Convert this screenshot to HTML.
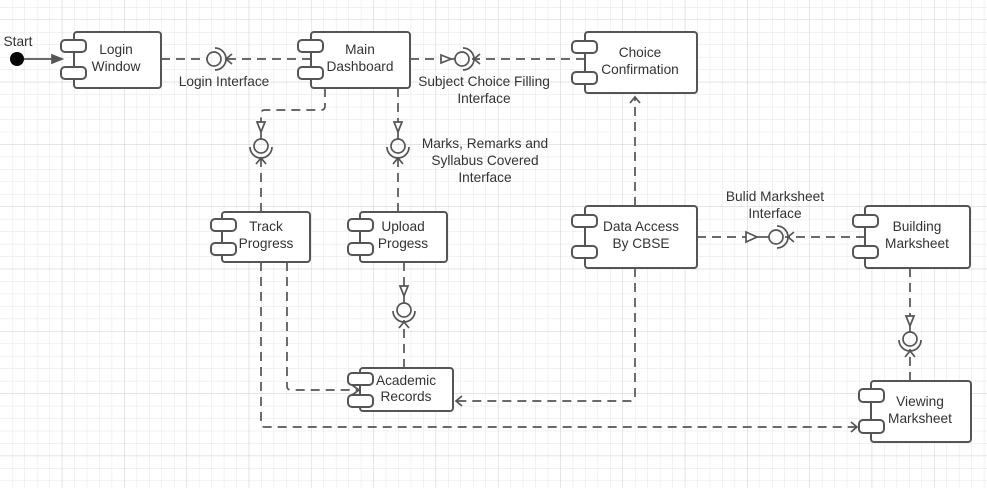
<!DOCTYPE html>
<html><head><meta charset="utf-8"><style>
html,body{margin:0;padding:0;background:#fff;}
svg{display:block;}
text{font-family:"Liberation Sans",sans-serif;font-size:13.7px;fill:#333;}
</style></head><body>
<svg width="987" height="488" viewBox="0 0 987 488" xmlns="http://www.w3.org/2000/svg">
<defs>
<pattern id="gmin" width="12.46" height="12.46" patternUnits="userSpaceOnUse" x="0" y="7.6">
<path d="M12.46 0V12.46M0 12.46H12.46" fill="none" stroke="#e6e6e6" stroke-width="1"/>
</pattern>
<pattern id="gmaj" width="62.3" height="62.3" patternUnits="userSpaceOnUse" x="0" y="20">
<path d="M62.3 0V62.3M0 62.3H62.3" fill="none" stroke="#d4d4d4" stroke-width="1"/>
</pattern>
</defs>
<rect width="987" height="488" fill="#fff"/>
<rect width="987" height="488" fill="url(#gmin)"/>
<rect width="987" height="488" fill="url(#gmaj)"/>

<g fill="none" stroke="#555" stroke-width="1.7" stroke-dasharray="9,6">
<path d="M161 59H207"/>
<path d="M311 59H224"/>
<path d="M410 59H441"/>
<path d="M585 59H472"/>
<path d="M325 88V106Q325 110 321 110H265Q261 110 261 114V122"/>
<path d="M261 212V156"/>
<path d="M398 88V122"/>
<path d="M398 212V156"/>
<path d="M404 262V286"/>
<path d="M404 368V320"/>
<path d="M697 237H746"/>
<path d="M865 237H785"/>
<path d="M910 268V316"/>
<path d="M910 381V349"/>
<path d="M635 206V98"/>
<path d="M635 268V397Q635 401 631 401H456"/>
<path d="M287 262V386Q287 390 291 390H358"/>
<path d="M261 262V423Q261 427 265 427H857"/>
</g>

<g fill="none" stroke="#555" stroke-width="1.7">
<path d="M24 59H62"/>
<path d="M62 59L52 55V63Z" fill="#555"/>
<circle cx="214" cy="59" r="7"/>
<path d="M215 48A11 11 0 0 1 215 70"/>
<path d="M232 54L226 59L232 64"/>
<path d="M441 55L451 59L441 63Z" fill="#fff"/><path d="M451 59H455"/>
<circle cx="462" cy="59" r="7"/>
<path d="M463 48A11 11 0 0 1 463 70"/>
<path d="M480 54L474 59L480 64"/>
<path d="M257 122L261 132L265 122Z" fill="#fff"/><path d="M261 132V139"/>
<circle cx="261" cy="146" r="7"/>
<path d="M250 147A11 11 0 0 0 272 147"/>
<path d="M256 164L261 158L266 164"/>
<path d="M394 122L398 132L402 122Z" fill="#fff"/><path d="M398 132V139"/>
<circle cx="398" cy="146" r="7"/>
<path d="M387 147A11 11 0 0 0 409 147"/>
<path d="M393 164L398 158L403 164"/>
<path d="M400 286L404 296L408 286Z" fill="#fff"/><path d="M404 296V303"/>
<circle cx="404" cy="310" r="7"/>
<path d="M393 311A11 11 0 0 0 415 311"/>
<path d="M399 328L404 322L409 328"/>
<path d="M746 232L757 237L746 242Z" fill="#fff"/><path d="M757 237H769"/>
<circle cx="776" cy="237" r="7"/>
<path d="M777 226A11 11 0 0 1 777 248"/>
<path d="M794 232L788 237L794 242"/>
<path d="M906 316L910 326L914 316Z" fill="#fff"/><path d="M910 326V332"/>
<circle cx="910" cy="339" r="7"/>
<path d="M899 340A11 11 0 0 0 921 340"/>
<path d="M905 357L910 351L915 357"/>
<path d="M630 103L635 97L640 103"/>
<path d="M462 396L456 401L462 406"/>
<path d="M352 385L359 390L352 395"/>
<path d="M851 422L857 427L851 432"/>
</g>
<circle cx="17" cy="59" r="7" fill="#000"/>

<g fill="#fff" stroke="#555" stroke-width="2">
<rect x="74" y="32" width="87" height="56" rx="3"/>
<rect x="61" y="40" width="25" height="12" rx="4"/><rect x="61" y="67" width="25" height="12" rx="4"/>
<rect x="311" y="32" width="99" height="56" rx="3"/>
<rect x="298" y="40" width="25" height="12" rx="4"/><rect x="298" y="67" width="25" height="12" rx="4"/>
<rect x="585" y="32" width="112" height="61" rx="3"/>
<rect x="572" y="41" width="25" height="12" rx="4"/><rect x="572" y="72" width="25" height="12" rx="4"/>
<rect x="222" y="212" width="88" height="50" rx="3"/>
<rect x="211" y="219" width="25" height="12" rx="4"/><rect x="211" y="243" width="25" height="12" rx="4"/>
<rect x="360" y="212" width="87" height="50" rx="3"/>
<rect x="348" y="219" width="25" height="12" rx="4"/><rect x="348" y="243" width="25" height="12" rx="4"/>
<rect x="585" y="206" width="112" height="62" rx="3"/>
<rect x="572" y="215" width="25" height="12" rx="4"/><rect x="572" y="246" width="25" height="12" rx="4"/>
<rect x="865" y="206" width="105" height="62" rx="3"/>
<rect x="853" y="215" width="25" height="12" rx="4"/><rect x="853" y="246" width="25" height="12" rx="4"/>
<rect x="360" y="368" width="93" height="43" rx="3"/>
<rect x="348" y="373" width="25" height="12" rx="4"/><rect x="348" y="395" width="25" height="12" rx="4"/>
<rect x="871" y="381" width="100" height="61" rx="3"/>
<rect x="859" y="389" width="25" height="13" rx="4"/><rect x="859" y="420" width="25" height="13" rx="4"/>
</g>

<g text-anchor="middle">
<text x="18" y="46">Start</text>
<text x="116" y="54">Login</text><text x="116" y="71">Window</text>
<text x="360" y="54">Main</text><text x="360" y="71">Dashboard</text>
<text x="640" y="57">Choice</text><text x="640" y="74">Confirmation</text>
<text x="266" y="231">Track</text><text x="266" y="248">Progress</text>
<text x="403" y="231">Upload</text><text x="403" y="248">Progess</text>
<text x="641" y="231">Data Access</text><text x="641" y="248">By CBSE</text>
<text x="917" y="231">Building</text><text x="917" y="248">Marksheet</text>
<text x="406" y="385">Academic</text><text x="406" y="401">Records</text>
<text x="920" y="406">Viewing</text><text x="920" y="423">Marksheet</text>
<text x="224" y="86">Login Interface</text>
<text x="484" y="86">Subject Choice Filling</text><text x="484" y="103">Interface</text>
<text x="485" y="148">Marks, Remarks and</text><text x="485" y="165">Syllabus Covered</text><text x="485" y="182">Interface</text>
<text x="775" y="201">Bulid Marksheet</text><text x="775" y="218">Interface</text>
</g>
</svg>
</body></html>
